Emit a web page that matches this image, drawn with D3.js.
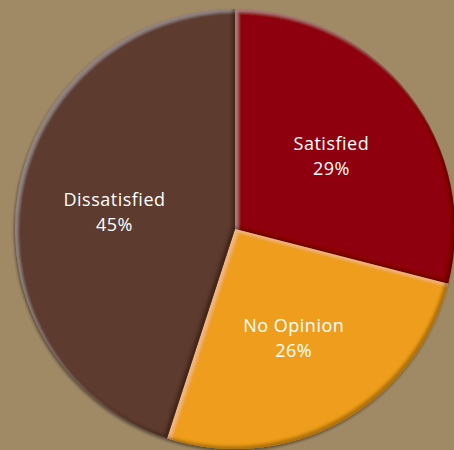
<!DOCTYPE html>
<html>
<head>
<meta charset="utf-8">
<script src="https://cdn.jsdelivr.net/npm/d3@7"></script>
<style>
  html, body { margin: 0; padding: 0; background: #A08965; }
  svg { display: block; }
</style>
</head>
<body>
<svg id="chart" width="454" height="450"></svg>
<script>
// Survey responses, clockwise from 12 o'clock
const categories = ["Satisfied", "No Opinion", "Dissatisfied"];
const shares = [29, 26, 45];
const sliceColors = ["#8E0407", "#EE9E1C", "#5D3A2E"];

const width = 454, height = 450;
const cx = 235, cy = 229, radius = 220;

const svg = d3.select("#chart");

svg.append("rect").attr("width", width).attr("height", height).attr("fill", "#A08965");

const defs = svg.append("defs");

// Soft bevel: light rim on upper-left edges, dark rim on lower-right edges
const bevel = defs.append("filter").attr("id", "bevel")
  .attr("x", "-10%").attr("y", "-10%").attr("width", "120%").attr("height", "120%");
bevel.append("feGaussianBlur").attr("in", "SourceAlpha").attr("stdDeviation", 1.6).attr("result", "blur");
// light rim
bevel.append("feOffset").attr("in", "blur").attr("dx", 2.5).attr("dy", 2.5).attr("result", "offL");
bevel.append("feComposite").attr("in", "SourceAlpha").attr("in2", "offL").attr("operator", "out").attr("result", "rimL");
bevel.append("feFlood").attr("flood-color", "#ffffff").attr("flood-opacity", 0.2).attr("result", "white");
bevel.append("feComposite").attr("in", "white").attr("in2", "rimL").attr("operator", "in").attr("result", "hiL");
// dark rim
bevel.append("feOffset").attr("in", "blur").attr("dx", -3).attr("dy", -3).attr("result", "offD");
bevel.append("feComposite").attr("in", "SourceAlpha").attr("in2", "offD").attr("operator", "out").attr("result", "rimD");
bevel.append("feFlood").attr("flood-color", "#000000").attr("flood-opacity", 0.5).attr("result", "black");
bevel.append("feComposite").attr("in", "black").attr("in2", "rimD").attr("operator", "in").attr("result", "shD");
const merge = bevel.append("feMerge");
merge.append("feMergeNode").attr("in", "SourceGraphic");
merge.append("feMergeNode").attr("in", "hiL");
merge.append("feMergeNode").attr("in", "shD");

// Outer drop shadow for the whole pie
const drop = defs.append("filter").attr("id", "drop")
  .attr("x", "-10%").attr("y", "-10%").attr("width", "120%").attr("height", "120%");
drop.append("feGaussianBlur").attr("in", "SourceAlpha").attr("stdDeviation", 1.5).attr("result", "b");
drop.append("feOffset").attr("in", "b").attr("dx", -1).attr("dy", 1.5).attr("result", "o");
drop.append("feComponentTransfer").attr("in", "o").attr("result", "s")
  .append("feFuncA").attr("type", "linear").attr("slope", 0.45);
const dm = drop.append("feMerge");
dm.append("feMergeNode").attr("in", "s");
dm.append("feMergeNode").attr("in", "SourceGraphic");

const data = categories.map((c, i) => ({ name: c, value: shares[i], color: sliceColors[i] }));

const pie = d3.pie().value(d => d.value).sort(null);
const arc = d3.arc().innerRadius(0).outerRadius(radius);
const labelArc = d3.arc().innerRadius(122).outerRadius(122);

const g = svg.append("g").attr("transform", `translate(${cx},${cy})`);
const arcs = pie(data);

const slices = g.append("g").attr("filter", "url(#drop)");
slices.selectAll("path")
  .data(arcs)
  .join("path")
  .attr("d", arc)
  .attr("fill", d => d.data.color)
  .attr("filter", "url(#bevel)");

const total = d3.sum(shares);
const labels = g.append("g")
  .attr("font-family", "'Open Sans', sans-serif")
  .attr("font-size", 18)
  .attr("font-weight", 500)
  .attr("letter-spacing", 0.5)
  .attr("fill", "#ffffff")
  .attr("text-anchor", "middle");

labels.selectAll("text")
  .data(arcs)
  .join("text")
  .attr("transform", d => `translate(${labelArc.centroid(d)})`)
  .each(function (d) {
    const t = d3.select(this);
    t.append("tspan").attr("x", 0).attr("y", -4).text(d.data.name);
    t.append("tspan").attr("x", 0).attr("y", 21).text(Math.round(d.data.value / total * 100) + "%");
  });
</script>
</body>
</html>
